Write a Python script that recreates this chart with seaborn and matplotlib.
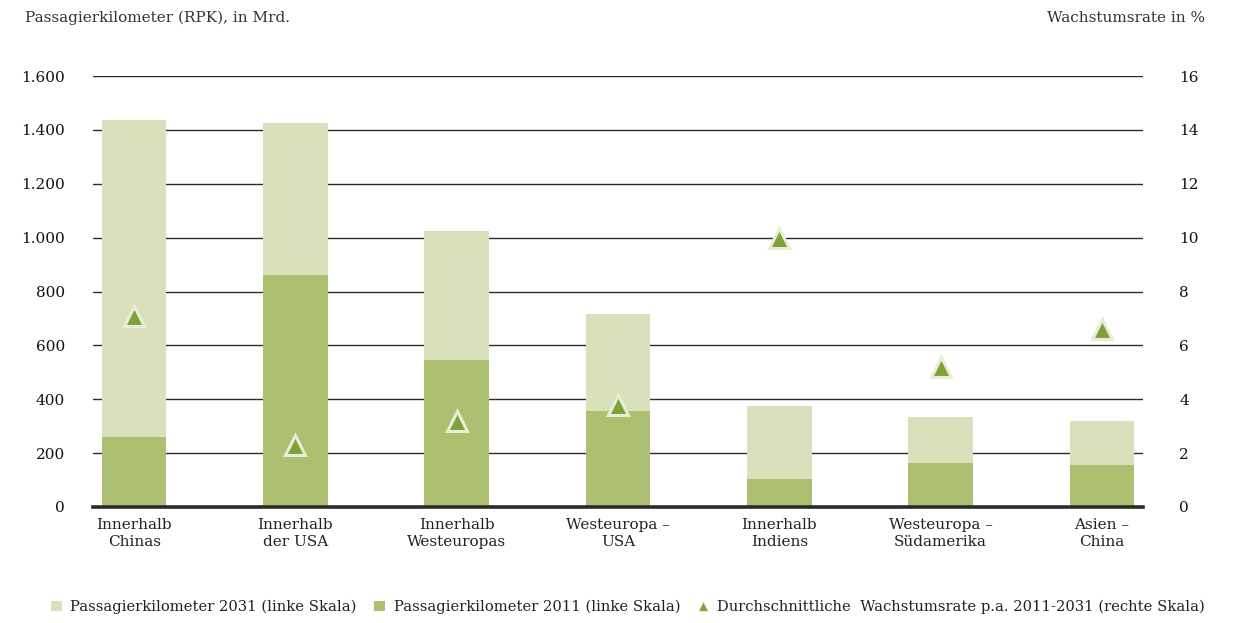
import matplotlib
matplotlib.use("Agg")
import matplotlib.pyplot as plt
from matplotlib.lines import Line2D
from matplotlib.patches import Patch
import seaborn as sns
import pandas as pd

# Routes and their passenger kilometres (RPK, billions) plus average annual growth
routes = ["Innerhalb\nChinas", "Innerhalb\nder USA", "Innerhalb\nWesteuropas",
          "Westeuropa –\nUSA", "Innerhalb\nIndiens", "Westeuropa –\nSüdamerika",
          "Asien –\nChina"]
rpk_2031 = [1435, 1425, 1025, 715, 375, 335, 320]
rpk_2011 = [260, 860, 545, 355, 105, 165, 155]
growth = [7.1, 2.3, 3.2, 3.8, 10.0, 5.2, 6.6]

left_ticks = [0, 200, 400, 600, 800, 1000, 1200, 1400, 1600]
left_labels = ["0", "200", "400", "600", "800", "1.000", "1.200", "1.400", "1.600"]
right_ticks = [0, 2, 4, 6, 8, 10, 12, 14, 16]

legend_labels = ["Passagierkilometer 2031 (linke Skala)",
                 "Passagierkilometer 2011 (linke Skala)",
                 "Durchschnittliche  Wachstumsrate p.a. 2011-2031 (rechte Skala)"]

LIGHT = "#d9e0bc"
DARK = "#adc071"
TRI = "#7ea23a"
TRI_EDGE = "#e8edd8"
TEXT = "#333333"

sns.set_theme(style="white")
plt.rcParams["font.family"] = ["DejaVu Serif"]
plt.rcParams["font.size"] = 10.8

df = pd.DataFrame({"route": routes, "rpk_2031": rpk_2031,
                   "rpk_2011": rpk_2011, "growth": growth})

fig = plt.figure(figsize=(12.46, 6.23), dpi=100)
ax = fig.add_axes([93 / 1246, 1 - 507 / 623, (1143 - 93) / 1246, (507 - 76) / 623])

sns.barplot(data=df, x="route", y="rpk_2031", order=routes, color=LIGHT,
            width=0.4, saturation=1, linewidth=0, ax=ax, zorder=2)
sns.barplot(data=df, x="route", y="rpk_2011", order=routes, color=DARK,
            width=0.4, saturation=1, linewidth=0, ax=ax, zorder=3)

ax.set_xlim(-0.255, 6.255)
ax.set_ylim(0, 1600)
ax.set_yticks(left_ticks)
ax.set_yticklabels(left_labels, color="#111111")
ax.set_xlabel("")
ax.set_ylabel("")
ax.tick_params(axis="y", length=0, pad=20)
ax.tick_params(axis="x", length=0, pad=8, labelcolor="#222222")
for lbl in ax.get_xticklabels():
    lbl.set_linespacing(1.3)
ax.grid(axis="y", color="#2b2b2b", linewidth=1.0, zorder=1)
ax.set_axisbelow(True)
for s in ["top", "right", "left"]:
    ax.spines[s].set_visible(False)
ax.spines["bottom"].set_color("#2b2b2b")
ax.spines["bottom"].set_linewidth(2.6)
ax.spines["bottom"].set_zorder(5)

ax2 = ax.twinx()
ax2.set_ylim(0, 16)
ax2.set_yticks(right_ticks)
ax2.set_yticklabels([str(t) for t in right_ticks], color="#111111")
ax2.tick_params(axis="y", length=0, pad=26)
for s in ax2.spines.values():
    s.set_visible(False)
ax2.plot(range(len(routes)), growth, linestyle="none", marker="^",
         markersize=14, markerfacecolor=TRI, markeredgecolor=TRI_EDGE,
         markeredgewidth=2.2, zorder=6)

fig.text(25 / 1246, 1 - 18 / 623, "Passagierkilometer (RPK), in Mrd.",
         ha="left", va="center", color=TEXT, fontsize=11)
fig.text(1205 / 1246, 1 - 18 / 623, "Wachstumsrate in %",
         ha="right", va="center", color=TEXT, fontsize=11)

handles = [
    Patch(facecolor=LIGHT, edgecolor="none"),
    Patch(facecolor=DARK, edgecolor="none"),
    Line2D([], [], linestyle="none", marker="^", markersize=7,
           markerfacecolor=TRI, markeredgecolor=TRI_EDGE, markeredgewidth=0.8),
]
fig.legend(handles, legend_labels, loc="center", ncol=3,
           bbox_to_anchor=(628 / 1246, 1 - 607 / 623), frameon=False,
           handlelength=0.7, handleheight=0.7, handletextpad=0.6,
           columnspacing=1.2, fontsize=10.6, labelcolor="#222222")

fig.savefig("out.png", dpi=100)
